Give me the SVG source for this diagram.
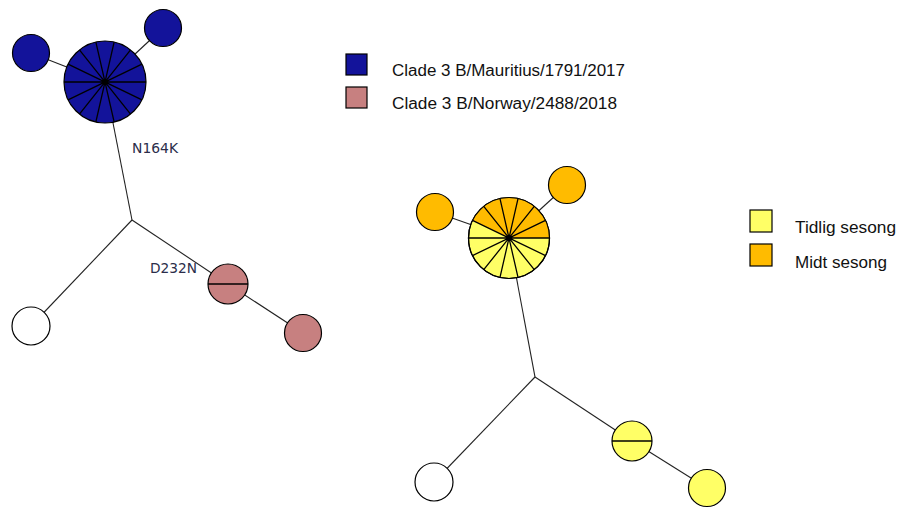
<svg xmlns="http://www.w3.org/2000/svg" width="899" height="508" viewBox="0 0 899 508">
<style>
.c{stroke:#000;stroke-width:1.2;}
.e{stroke:#222;stroke-width:1.1;fill:none;}
.sp{stroke:#000;stroke-width:1.3;fill:none;}
.lg{font-family:"Liberation Sans",Arial,sans-serif;font-size:16px;fill:#111;}
.mu{font-family:"DejaVu Sans",Verdana,sans-serif;font-size:14px;fill:#2b2d4a;}
.blue{fill:#13139a;}
.pink{fill:#c78080;}
.yel{fill:#ffff66;}
.ora{fill:#ffbb00;}
.wh{fill:#fff;}
</style>
<rect width="899" height="508" fill="#fff"/>
<g id="connectors">
<line class="e" x1="31" y1="53" x2="105" y2="82"/>
<line class="e" x1="163" y1="28" x2="105" y2="82"/>
<line class="e" x1="105" y1="82" x2="132" y2="220"/>
<line class="e" x1="132" y1="220" x2="31" y2="326"/>
<line class="e" x1="132" y1="220" x2="228" y2="284"/>
<line class="e" x1="228" y1="284" x2="303" y2="333"/>
<line class="e" x1="435" y1="212" x2="509" y2="238"/>
<line class="e" x1="567" y1="185" x2="509" y2="238"/>
<line class="e" x1="509" y1="238" x2="535" y2="377"/>
<line class="e" x1="535" y1="377" x2="434" y2="482"/>
<line class="e" x1="535" y1="377" x2="632" y2="441"/>
<line class="e" x1="632" y1="441" x2="707" y2="488"/>
</g>
<g id="blue-hub">
<circle class="c blue" cx="105" cy="82" r="41"/>
<path class="sp" d="M146,82L64,82M141.94,64.21L68.06,99.79M130.56,49.94L79.44,114.06M114.12,42.03L95.88,121.97M95.88,42.03L114.12,121.97M79.44,49.94L130.56,114.06M68.06,64.21L141.94,99.79"/>
<circle cx="105" cy="82" r="2.2" fill="#000"/>
</g>
<g id="blue-left"><circle class="c blue" cx="31" cy="53" r="18.5"/></g>
<g id="blue-right"><circle class="c blue" cx="163" cy="28" r="18.5"/></g>
<g id="left-white"><circle class="c wh" cx="31" cy="326" r="19"/></g>
<g id="pink-mid">
<circle class="c pink" cx="228" cy="284" r="20"/>
<line class="sp" x1="208" y1="284" x2="248" y2="284"/>
</g>
<g id="pink-end"><circle class="c pink" cx="303" cy="333" r="18.5"/></g>
<g id="label-n164k"><text class="mu" x="132" y="153" textLength="46" lengthAdjust="spacingAndGlyphs">N164K</text></g>
<g id="label-d232n"><text class="mu" x="150" y="273" textLength="47" lengthAdjust="spacingAndGlyphs">D232N</text></g>
<g id="season-hub">
<circle class="c yel" cx="509" cy="238" r="40.5"/>
<path class="ora" d="M509,238L549.5,238A40.5,40.5 0 0 0 472.51,220.43Z"/>
<circle cx="509" cy="238" r="40.5" fill="none" stroke="#000" stroke-width="1.2"/>
<path class="sp" d="M549.5,238L468.5,238M545.49,220.43L472.51,255.57M534.25,206.34L483.75,269.66M518.01,198.52L499.99,277.48M499.99,198.52L518.01,277.48M483.75,206.34L534.25,269.66M472.51,220.43L545.49,255.57"/>
<circle cx="509" cy="238" r="2.2" fill="#000"/>
</g>
<g id="orange-left"><circle class="c ora" cx="435" cy="212" r="18.5"/></g>
<g id="orange-right"><circle class="c ora" cx="567" cy="185" r="18.5"/></g>
<g id="right-white"><circle class="c wh" cx="434" cy="482" r="19"/></g>
<g id="yellow-mid">
<circle class="c yel" cx="632" cy="441" r="20"/>
<line class="sp" x1="612" y1="441" x2="652" y2="441"/>
</g>
<g id="yellow-end"><circle class="c yel" cx="707" cy="488" r="18.5"/></g>
<g id="legend-clade">
<rect class="c blue" x="346" y="54" width="21" height="21"/>
<text class="lg" x="392" y="76" textLength="233" lengthAdjust="spacingAndGlyphs">Clade 3 B/Mauritius/1791/2017</text>
<rect class="c pink" x="346" y="87" width="21" height="21"/>
<text class="lg" x="392" y="109" textLength="225" lengthAdjust="spacingAndGlyphs">Clade 3 B/Norway/2488/2018</text>
</g>
<g id="legend-season">
<rect class="c yel" x="750" y="210" width="22" height="22"/>
<text class="lg" x="795" y="233" textLength="101" lengthAdjust="spacingAndGlyphs">Tidlig sesong</text>
<rect class="c ora" x="750" y="244" width="22" height="22"/>
<text class="lg" x="795" y="268" textLength="92" lengthAdjust="spacingAndGlyphs">Midt sesong</text>
</g>
</svg>
